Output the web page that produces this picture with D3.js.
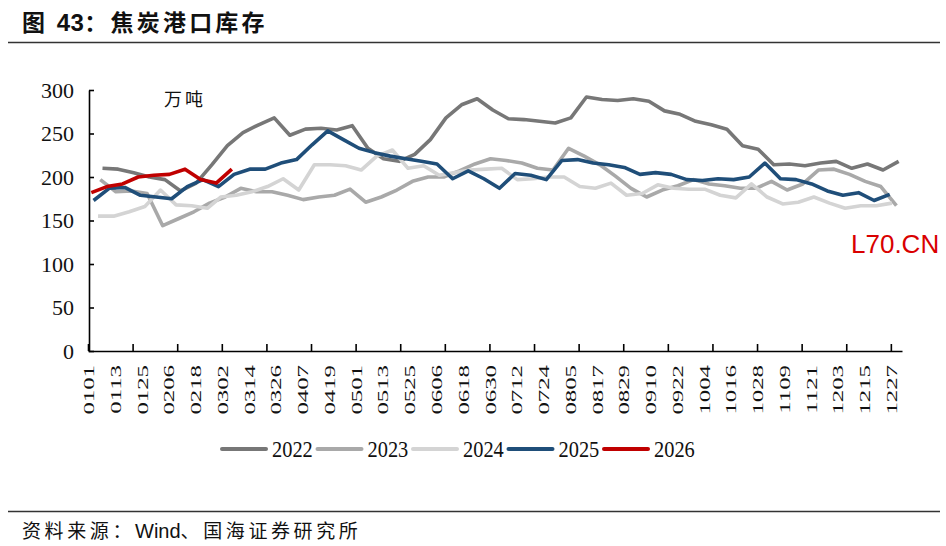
<!DOCTYPE html>
<html>
<head>
<meta charset="utf-8">
<script src="https://cdn.jsdelivr.net/npm/d3@7"></script>
<style>
  body { margin: 0; background: #fff; }
  svg { display: block; }
</style>
</head>
<body>
<div id="chart"></div>
<script>
// x axis labels (MMDD), every 12 days
var xLabels = ["0101", "0113", "0125", "0206", "0218", "0302", "0314", "0326", "0407", "0419",
    "0501", "0513", "0525", "0606", "0618", "0630", "0712", "0724", "0805", "0817",
    "0829", "0910", "0922", "1004", "1016", "1028", "1109", "1121", "1203", "1215", "1227"];
var yTicks = [0, 50, 100, 150, 200, 250, 300];

var years = ["2022", "2023", "2024", "2025", "2026"];
// first weekly observation of each year
var startDates = ["2022-01-07", "2023-01-06", "2024-01-05", "2025-01-03", "2026-01-02"];
var colors = ["#777777", "#a9a9a9", "#d4d4d4", "#1f4e79", "#c00000"];

// weekly port stocks, 10k tonnes
var v2022 = [210, 209, 205, 200, 197, 184, 193, 214, 236, 251, 260, 268, 248, 255, 256, 254, 259, 233,
    221, 218, 226, 243, 268, 283, 290, 277, 267, 266, 264, 262, 268, 292, 289, 288, 290, 287, 276,
    272, 264, 260, 255, 236, 232, 214, 215, 213, 216, 218, 210, 215, 208, 218];
var v2023 = [197, 183, 184, 181, 144, 152, 160, 170, 177, 187, 183, 183, 179, 174, 177, 179, 186, 171,
    177, 185, 195, 200, 200, 207, 215, 221, 219, 216, 210, 208, 233, 224, 214, 201, 187, 177, 185,
    190, 197, 192, 190, 187, 187, 195, 185, 192, 208, 209, 203, 195, 189, 167];
var v2024 = [155, 155, 160, 166, 185, 168, 167, 164, 177, 179, 183, 189, 198, 185, 214, 214, 213, 208,
    224, 231, 210, 213, 202, 205, 208, 209, 210, 197, 198, 200, 200, 189, 187, 193, 179, 181, 191,
    187, 186, 186, 179, 176, 192, 177, 169, 171, 177, 170, 164, 167, 167, 170];
var v2025 = [173, 187, 188, 179, 177, 175, 189, 197, 189, 203, 209, 209, 216, 220, 237, 253, 243, 233,
    228, 224, 221, 218, 215, 198, 207, 198, 187, 204, 202, 197, 219, 220, 216, 214, 211, 203, 205,
    203, 197, 196, 198, 197, 200, 216, 198, 197, 192, 184, 179, 182, 173, 180];
var v2026 = [182, 189, 192, 200, 202, 203, 209, 197, 193, 209];
var values = [v2022, v2023, v2024, v2025, v2026];

var width = 946, height = 546;
var plot = { left: 88, right: 902, top: 90, bottom: 351 };

var svg = d3.select("#chart")
    .append("svg")
    .attr("width", width)
    .attr("height", height);

var cjk = "'Noto Sans CJK SC', sans-serif";
var serif = "'Liberation Serif', 'Times New Roman', serif";

// title
var title = svg.append("text")
    .attr("x", 22)
    .attr("y", 31)
    .attr("font-family", cjk)
    .attr("font-weight", 700)
    .attr("font-size", 23)
    .attr("letter-spacing", 3.2)
    .attr("fill", "#111");
title.append("tspan").text("图 ");
title.append("tspan").attr("font-family", "'Liberation Sans', Arial, sans-serif")
    .attr("font-size", 24).attr("letter-spacing", 0.5).text("43");
title.append("tspan").text("：焦炭港口库存");

svg.append("line").attr("x1", 8).attr("x2", 940).attr("y1", 42.5).attr("y2", 42.5)
    .attr("stroke", "#333").attr("stroke-width", 1.5);
svg.append("line").attr("x1", 8).attr("x2", 940).attr("y1", 511.5).attr("y2", 511.5)
    .attr("stroke", "#333").attr("stroke-width", 1.5);

// source
var source = svg.append("text")
    .attr("x", 22)
    .attr("y", 538)
    .attr("font-family", "'Liberation Sans', Arial, 'Noto Sans CJK SC', sans-serif")
    .attr("font-size", 19)
    .attr("letter-spacing", 3.6)
    .attr("fill", "#111");
source.append("tspan").text("资料来源：");
source.append("tspan").attr("font-size", 20).attr("letter-spacing", 0).text("Wind");
source.append("tspan").text("、国海证券研究所");

// scales: one calendar year of daily categories
var base = new Date(2021, 0, 1);
var x = d3.scaleTime()
    .domain([base, new Date(2022, 0, 1)])
    .range([plot.left, plot.right]);
var y = d3.scaleLinear()
    .domain([0, 300])
    .range([plot.bottom, plot.top]);

function toBase(date) {
    return new Date(2021, date.getMonth(), date.getDate(), 12);
}
var parse = d3.timeParse("%Y-%m-%d");

// y axis
var yAxis = svg.append("g")
    .attr("transform", "translate(" + (plot.left + 1) + ",0)")
    .call(d3.axisLeft(y).tickValues(yTicks).tickSizeInner(-5).tickSizeOuter(0).tickPadding(15));
yAxis.select(".domain").attr("stroke", "#000").attr("stroke-width", 1.6);
yAxis.selectAll(".tick line").attr("stroke", "#000").attr("stroke-width", 1.6);
yAxis.selectAll(".tick text")
    .attr("font-family", serif)
    .attr("font-size", 22)
    .attr("fill", "#111");

// x axis tick marks every 20 days
var tickDates = d3.range(0, 19).map(function(i) { return d3.timeDay.offset(base, i * 20); });
var xAxis = svg.append("g")
    .attr("transform", "translate(0," + plot.bottom + ")")
    .call(d3.axisBottom(x).tickValues(tickDates).tickSizeInner(-7).tickSizeOuter(0).tickFormat(""));
xAxis.select(".domain").attr("stroke", "#000").attr("stroke-width", 1.6);
xAxis.selectAll(".tick line").attr("stroke", "#000").attr("stroke-width", 1.6);

// x labels, rotated
var labelDates = xLabels.map(function(s) {
    return new Date(2021, +s.slice(0, 2) - 1, +s.slice(2, 4), 12);
});
svg.append("g")
    .selectAll("text")
    .data(xLabels)
    .join("text")
    .attr("transform", function(d, i) {
        return "translate(" + (x(labelDates[i]) + 5) + "," + (plot.bottom + 14) + ") rotate(-90) scale(1.6,1)";
    })
    .attr("text-anchor", "end")
    .attr("font-family", serif)
    .attr("font-size", 15.5)
    .attr("fill", "#111")
    .text(function(d) { return d; });

// unit
svg.append("text")
    .attr("x", 164)
    .attr("y", 106)
    .attr("font-family", cjk)
    .attr("font-size", 18)
    .attr("letter-spacing", 3)
    .attr("fill", "#111")
    .text("万吨");

// series
var line = d3.line()
    .x(function(d) { return x(d.date); })
    .y(function(d) { return y(d.value); });

var series = years.map(function(yr, i) {
    var start = parse(startDates[i]);
    return {
        year: yr,
        color: colors[i],
        points: values[i].map(function(v, k) {
            return { date: toBase(d3.timeDay.offset(start, 7 * k)), value: v };
        })
    };
});

svg.append("g")
    .selectAll("path")
    .data(series)
    .join("path")
    .attr("fill", "none")
    .attr("stroke", function(d) { return d.color; })
    .attr("stroke-width", 3.6)
    .attr("stroke-linejoin", "round")
    .attr("d", function(d) { return line(d.points); });

// legend
var legend = svg.append("g")
    .attr("transform", "translate(222,449)")
    .selectAll("g")
    .data(series)
    .join("g")
    .attr("transform", function(d, i) { return "translate(" + (i * 95.5) + ",0)"; });
legend.append("line")
    .attr("x1", 0).attr("x2", 44)
    .attr("stroke", function(d) { return d.color; })
    .attr("stroke-width", 4)
    .attr("stroke-linecap", "round");
legend.append("text")
    .attr("transform", "translate(50,8) scale(0.85,1)")
    .attr("font-family", serif)
    .attr("font-size", 24)
    .attr("fill", "#111")
    .text(function(d) { return d.year; });

// watermark
svg.append("text")
    .attr("x", 851)
    .attr("y", 253)
    .attr("font-family", "'Liberation Sans', Arial, sans-serif")
    .attr("font-size", 26)
    .attr("fill", "#d90000")
    .text("L70.CN");
</script>
</body>
</html>
